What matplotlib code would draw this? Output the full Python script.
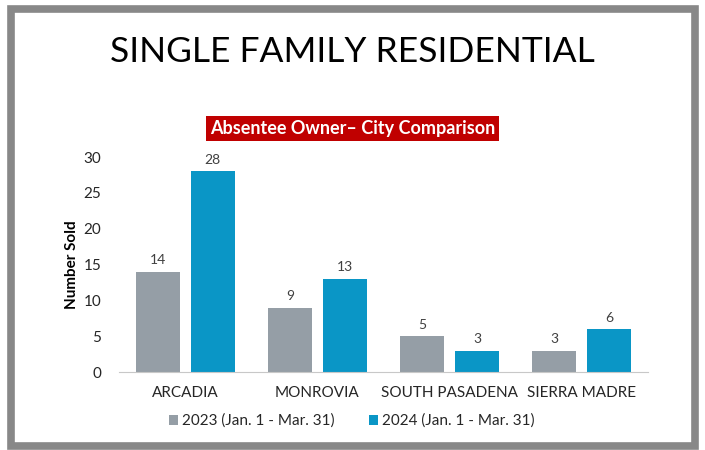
import matplotlib
import matplotlib.pyplot as plt
import numpy as np
from matplotlib.patches import Rectangle

plt.rcParams['font.family'] = ['Lato', 'DejaVu Sans']

cities = ['ARCADIA', 'MONROVIA', 'SOUTH PASADENA', 'SIERRA MADRE']
sold_2023 = [14, 9, 5, 3]
sold_2024 = [28, 13, 3, 6]
series_labels = ['2023 (Jan. 1 - Mar. 31)', '2024 (Jan. 1 - Mar. 31)']

gray = '#959ea6'
blue = '#0a96c6'

fig = plt.figure(figsize=(7.05, 4.5), dpi=100)

# grey frame round the slide
fig.patches.append(Rectangle((0.016, 0.01), 0.97, 0.97, transform=fig.transFigure,
                             fill=False, edgecolor='#888888', linewidth=5.5))

fig.text(0.5, 0.885, 'SINGLE FAMILY RESIDENTIAL', ha='center', va='center',
         fontsize=25.5, color='black')
fig.text(0.5, 0.715, 'Absentee Owner\u2013 City Comparison', ha='center', va='center',
         fontsize=13, fontweight='bold', color='white',
         bbox=dict(boxstyle='square,pad=0.22', facecolor='#c00000', edgecolor='none'))

ax = fig.add_axes([0.169, 0.173, 0.75, 0.478])

x = np.arange(len(cities))
width = 0.333
offset = 0.208

bars1 = ax.bar(x - offset, sold_2023, width, color=gray, label=series_labels[0])
bars2 = ax.bar(x + offset, sold_2024, width, color=blue, label=series_labels[1])

for rects in (bars1, bars2):
    for rect in rects:
        h = rect.get_height()
        ax.annotate('{}'.format(int(h)), xy=(rect.get_x() + rect.get_width() / 2, h),
                    xytext=(0, 4), textcoords='offset points',
                    ha='center', va='bottom', fontsize=10, color='#404040')

ax.set_xlim(-0.5, len(cities) - 0.5)
ax.set_ylim(0, 30)
ax.set_yticks(range(0, 31, 5))
ax.set_xticks(x)
ax.set_xticklabels(cities)
ax.tick_params(axis='both', length=0, labelsize=11, colors='#262626')
ax.tick_params(axis='x', pad=10)
ax.tick_params(axis='y', pad=13)
for side in ('top', 'right', 'left'):
    ax.spines[side].set_visible(False)
ax.spines['bottom'].set_color('#c8c8c8')
ax.set_ylabel('Number Sold', fontsize=11, fontweight='bold')
ax.yaxis.set_label_coords(-0.075, 0.5)

ax.legend(loc='upper center', bbox_to_anchor=(0.44, -0.13), ncol=2, frameon=False,
          fontsize=11, handlelength=0.6, handleheight=0.6, handletextpad=0.3,
          columnspacing=2.2, labelcolor='#262626')

plt.savefig('out.png', dpi=100)
